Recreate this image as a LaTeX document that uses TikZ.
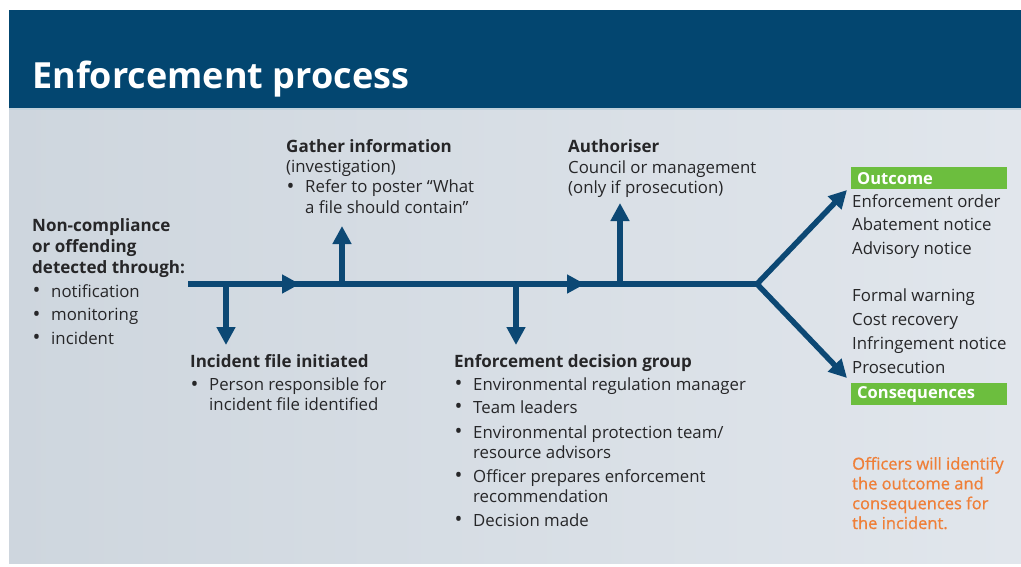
\documentclass[tikz,border=0pt]{standalone}
\usepackage{fontspec}
\setmainfont{Open Sans}
\usetikzlibrary{arrows.meta}
\definecolor{barblue}{RGB}{3,70,112}
\definecolor{arrowblue}{RGB}{12,72,116}
\definecolor{okgreen}{RGB}{108,190,62}
\definecolor{orangetxt}{RGB}{239,127,56}
\definecolor{bodytxt}{RGB}{38,38,40}
\definecolor{bgleft}{RGB}{206,214,222}
\definecolor{bgright}{RGB}{225,230,236}
\newcommand\bul{\makebox[19pt][l]{\hspace{0.5pt}\raisebox{-0.8pt}{\fontsize{21}{20}\selectfont\textbullet}}}
\newcommand\cont{\hspace*{19pt}}
% nodes are anchored at the baseline of their LAST line
\tikzset{
  head/.style={anchor=base west, inner sep=0pt, text=bodytxt, align=left,
    font=\fontsize{17}{21}\selectfont\bfseries},
  body/.style={anchor=base west, inner sep=0pt, text=bodytxt, align=left,
    font=\fontsize{16.8}{20}\selectfont},
  spineline/.style={line width=5.5pt, arrowblue},
  flow/.style={line width=5.5pt, arrowblue, -{Triangle[width=18pt,length=18pt]}},
  greenbox/.style={anchor=north west, fill=okgreen, text=white, minimum width=156pt,
    minimum height=22pt, inner sep=0pt, inner xsep=6pt, text width=144pt, align=left,
    font=\fontsize{16.5}{20}\selectfont\bfseries},
}
\begin{document}
\begin{tikzpicture}[x=1pt,y=-1pt]
\useasboundingbox (0,0) rectangle (1021,566);
\fill[white] (0,0) rectangle (1021,566);
% background panel
\shade[left color=bgleft, right color=bgright] (9,108) rectangle (1021,563);
\fill[barblue] (9,10) rectangle (1021,108);
\fill[white!75!barblue] (9,108) rectangle (1021,110);
\node[anchor=base west, inner sep=0pt, text=white, font=\fontsize{36}{40}\selectfont\bfseries]
  (title) at (32,88) {Enforcement process};

% coordinates of the flow
\coordinate (start) at (188,284);
\coordinate (j1) at (226,284);
\coordinate (m1) at (300,284);
\coordinate (j2) at (342,284);
\coordinate (j3) at (516,284);
\coordinate (m2) at (585,284);
\coordinate (j4) at (620,284);
\coordinate (fork) at (757,284);
\coordinate (d1) at (226,345);
\coordinate (u1) at (342,226);
\coordinate (d2) at (516,345);
\coordinate (u2) at (620,203);
\coordinate (o1) at (847,190);
\coordinate (o2) at (847,378);

\draw[spineline] (start) -- (fork);
\draw[flow] (start) -- (m1);
\draw[flow] (j2) -- (m2);
\draw[flow] (j1) -- (d1);
\draw[flow] (j2) -- (u1);
\draw[flow] (j3) -- (d2);
\draw[flow] (j4) -- (u2);
\draw[line width=5.5pt, arrowblue, line join=miter,
  {Triangle[width=18pt,length=18pt]}-{Triangle[width=18pt,length=18pt]}] (o1) -- (fork) -- (o2);

% left block
\node[head] (detH) at (32,273) {Non-compliance\\or offending\\detected through:};
\node[body, font=\fontsize{16.8}{23.5}\selectfont] (detL) at (32,344)
  {\bul notification\\\bul monitoring\\\bul incident};

% gather information
\node[head] (gathH) at (286,152) {Gather information};
\node[body, font=\fontsize{16.8}{20.5}\selectfont] (gathL) at (286,213)
  {(investigation)\\\bul Refer to poster “What\\\cont a file should contain”};

% authoriser
\node[head] (authH) at (568,152) {Authoriser};
\node[body, font=\fontsize{16.8}{20.5}\selectfont] (authL) at (568,193.5)
  {Council or management\\(only if prosecution)};

% incident file
\node[head] (incH) at (190,367) {Incident file initiated};
\node[body] (incL) at (190,410.5)
  {\bul Person responsible for\\\cont incident file identified};

% enforcement decision group
\node[head] (edgH) at (454,367) {Enforcement decision group};
\node[body] (edgL) at (454,526)
  {\bul Environmental regulation manager\\[3pt]
   \bul Team leaders\\[5pt]
   \bul Environmental protection team/\\
   \cont resource advisors\\[4pt]
   \bul Officer prepares enforcement\\
   \cont recommendation\\[4pt]
   \bul Decision made};

% outcome / consequences
\node[greenbox] (outc) at (851,167) {Outcome};
\node[body, font=\fontsize{16.8}{23.5}\selectfont] (outL) at (852,254)
  {Enforcement order\\Abatement notice\\Advisory notice};
\node[body, font=\fontsize{16.8}{23.7}\selectfont] (conL) at (852,373)
  {Formal warning\\Cost recovery\\Infringement notice\\Prosecution};
\node[greenbox] (cons) at (851,383) {Consequences};

\node[anchor=base west, inner sep=0pt, align=left, text=orangetxt,
  font=\fontsize{16.5}{19.8}\selectfont\addfontfeature{FakeBold=0.8}] (note) at (852,529)
  {Officers will identify\\the outcome and\\consequences for\\the incident.};
\end{tikzpicture}
\end{document}
